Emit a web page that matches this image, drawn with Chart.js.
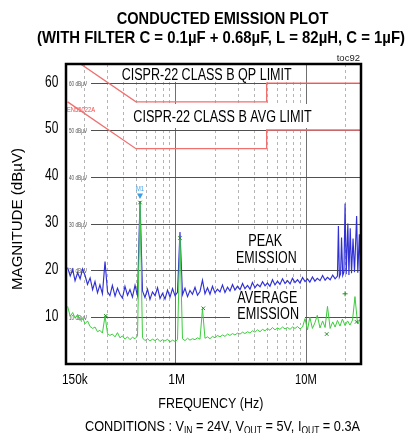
<!DOCTYPE html>
<html>
<head>
<meta charset="utf-8">
<script src="https://cdn.jsdelivr.net/npm/chart.js@4.4.1/dist/chart.umd.min.js"></script>
<style>
  html, body { margin: 0; padding: 0; background: #fff; }
  canvas { display: block; }
</style>
</head>
<body>
<canvas id="emi-chart" width="410" height="433"></canvas>
<script>
// Data (frequency in MHz, level in dBuV)
const gridFreqMHz = [
    0.150, 0.157, 0.164, 0.171, 0.179, 0.187, 0.195, 0.204, 0.213, 0.223,
    0.233, 0.243, 0.254, 0.265, 0.277, 0.290, 0.303, 0.316, 0.330, 0.346,
    0.361, 0.377, 0.394, 0.412, 0.431, 0.450, 0.470, 0.492, 0.514, 0.537,
    0.561, 0.586, 0.613, 0.640, 0.669, 0.700, 0.731, 0.764, 0.798, 0.834,
    0.872, 0.911, 0.952, 0.995, 1.04, 1.086, 1.135, 1.186, 1.24, 1.295,
    1.353, 1.415, 1.478, 1.545, 1.614, 1.687, 1.763, 1.842, 1.925, 2.012,
    2.10, 2.197, 2.296, 2.399, 2.51, 2.62, 2.74, 2.86, 2.99, 3.13,
    3.27, 3.41, 3.57, 3.73, 3.89, 4.07, 4.25, 4.45, 4.65, 4.86,
    5.07, 5.30, 5.54, 5.79, 6.05, 6.32, 6.61, 6.91, 7.22, 7.55,
    7.88, 8.24, 8.61, 9.00, 9.41, 9.83, 10.27, 10.7, 11.2, 11.7,
    12.2, 12.8, 13.4, 14.0, 14.6, 15.3, 16.0, 16.7, 17.4, 18.2,
    19.0, 19.9, 20.8, 21.7, 22.7, 23.7, 24.8, 25.9
];

// peak trace: grid up to 16.7 MHz, then the harmonic cluster near 20 MHz
const peakClusterFreqMHz = [
    17.4, 17.7, 18.0, 18.4, 18.7, 19.1, 19.5, 19.9, 20.3, 20.9,
    21.3, 21.8, 22.3, 22.9, 23.5, 24.4, 24.9, 25.6, 26.0, 26.35
];
const peakDbuV = [
    20.6, 18.8, 20.2, 17.8, 19.5, 18.2, 20.3, 18.9, 17.0, 18.4,
    15.9, 17.6, 15.2, 16.9, 15.0, 21.9, 15.4, 14.6, 16.8, 14.5,
    16.2, 14.9, 14.1, 16.6, 14.7, 15.9, 14.3, 16.8, 14.6, 34.8,
    15.6, 14.2, 16.0, 13.8, 15.4, 14.6, 16.3, 14.0, 15.1, 13.9,
    15.8, 14.3, 16.1, 14.6, 15.3, 28.2, 14.8, 16.2, 14.4, 15.7,
    14.9, 16.4, 14.7, 15.5, 17.9, 15.0, 16.3, 14.9, 16.6, 15.2,
    16.0, 15.4, 16.9, 15.3, 16.4, 15.6, 17.0, 15.8, 16.6, 15.9,
    17.2, 16.1, 16.8, 16.0, 17.4, 16.3, 17.0, 16.5, 17.6, 16.7,
    17.3, 16.6, 18.0, 16.9, 17.7, 17.0, 18.2, 17.2, 17.8, 17.1,
    18.3, 17.4, 18.0, 17.3, 18.5, 17.6, 18.2, 17.5, 18.6, 17.7,
    18.3, 17.8, 18.9, 17.9, 18.5, 18.0, 19.0, 18.2,
    18.8, 29.5, 18.6, 19.3, 27.0, 18.9, 19.6, 34.3, 19.2, 30.0,
    19.0, 29.0, 19.4, 26.8, 19.6, 31.6, 19.5, 27.7, 20.2, 19.8
];
const peakFreqMHz = gridFreqMHz.slice(0, 108).concat(peakClusterFreqMHz);

const avgFreqMHz = gridFreqMHz.concat([26.35]);
const avgDbuV = [
    12.3, 10.2, 11.0, 9.8, 10.6, 9.3, 9.9, 8.6, 9.2, 8.0,
    7.6, 7.9, 6.9, 7.2, 6.6, 10.3, 6.5, 6.1, 6.4, 5.8,
    6.7, 5.6, 6.0, 5.3, 5.8, 5.2, 5.7, 5.4, 6.0, 34.6,
    5.6, 5.0, 5.4, 4.9, 5.3, 5.0, 5.4, 4.8, 5.2, 4.9,
    5.3, 4.7, 5.1, 4.8, 5.2, 26.8, 5.4, 5.0, 5.5, 5.1,
    5.4, 5.2, 5.6, 5.3, 11.8, 5.5, 5.8, 5.4, 5.9, 5.6,
    6.1, 5.8, 6.2, 5.9, 6.4, 6.1, 6.5, 6.2, 6.6, 6.4,
    6.8, 6.5, 6.9, 6.6, 7.1, 6.8, 7.3, 6.9, 7.4, 7.1,
    7.6, 7.2, 7.8, 7.3, 7.7, 7.4, 7.9, 7.5, 7.8, 7.4,
    7.9, 7.6, 8.0, 7.5, 7.9, 9.7, 7.3, 10.0, 7.6, 8.8,
    10.4, 7.7, 9.2, 7.8, 12.3, 7.6, 9.0, 7.9, 9.3, 8.1,
    9.6, 8.2, 9.2, 8.3, 9.4, 14.4, 8.6, 9.5,
    8.7
];

const limitFreqMHz = [0.15, 0.5, 5, 5, 30];
const qpLimitDbuV = [66, 56, 56, 60, 60];
const avgLimitDbuV = [56, 46, 46, 50, 50];

const markerFreqMHz = [0.2935, 0.537, 1.086, 1.637, 14.4, 19.9, 24.4];
const markerDbuV = [10.3, 34.5, 26.9, 11.9, 6.4, 15.0, 9.0];
const m1FreqMHz = 0.537;

const yTicks = [10, 20, 30, 40, 50, 60];
const xTickFreqMHz = [0.15, 1, 10];
const xTickLabels = ['150k', '1M', '10M'];
const majorGridMHz = [1, 10];
const minorGridMHz = [0.2, 0.3, 0.4, 0.5, 0.6, 0.7, 0.8, 0.9, 2, 3, 4, 5, 6, 7, 8, 9, 20];

const NARROW = '"Liberation Sans Narrow", "Liberation Sans", Arial, sans-serif';

function toPoints(xs, ys) {
    return xs.map((x, i) => ({ x: x, y: ys[i] }));
}

// draw text squeezed/stretched to a given width, left edge at x
function fitText(ctx, text, x, y, width, font, color) {
    ctx.save();
    ctx.font = font;
    ctx.fillStyle = color || '#000';
    ctx.textAlign = 'left';
    ctx.textBaseline = 'alphabetic';
    const w = ctx.measureText(text).width;
    ctx.translate(x, y);
    ctx.scale(width / w, 1);
    ctx.fillText(text, 0, 0);
    ctx.restore();
}

function whiteBox(ctx, x1, y1, x2, y2) {
    ctx.fillStyle = '#fff';
    ctx.fillRect(x1, y1, x2 - x1, y2 - y1);
}

const backdrop = {
    id: 'backdrop',
    beforeDraw(chart) {
        const ctx = chart.ctx;
        ctx.save();
        ctx.fillStyle = '#fff';
        ctx.fillRect(0, 0, chart.width, chart.height);
        ctx.restore();
    },
    beforeDatasetsDraw(chart) {
        const ctx = chart.ctx;
        const area = chart.chartArea;
        const xs = chart.scales.x;
        const ys = chart.scales.y;
        ctx.save();

        // minor vertical grid
        ctx.strokeStyle = '#b4b4b4';
        ctx.lineWidth = 1;
        ctx.setLineDash([3, 3]);
        minorGridMHz.forEach(f => {
            const px = Math.round(xs.getPixelForValue(f)) + 0.5;
            ctx.beginPath();
            ctx.moveTo(px, area.top);
            ctx.lineTo(px, area.bottom);
            ctx.stroke();
        });
        ctx.setLineDash([]);

        // major vertical grid
        ctx.strokeStyle = '#707070';
        majorGridMHz.forEach(f => {
            const px = Math.round(xs.getPixelForValue(f)) + 0.5;
            ctx.beginPath();
            ctx.moveTo(px, area.top);
            ctx.lineTo(px, area.bottom);
            ctx.stroke();
        });

        // horizontal grid with small inline labels
        yTicks.forEach(v => {
            const py = Math.round(ys.getPixelForValue(v)) + 0.5;
            ctx.strokeStyle = '#505050';
            ctx.beginPath();
            ctx.moveTo(91, py);
            ctx.lineTo(area.right, py);
            ctx.stroke();
            fitText(ctx, v + ' dBµV', 69, py + 2.5, 18, '7px ' + NARROW, '#555');
        });

        // text boxes hide the grid underneath
        whiteBox(ctx, 115, area.top + 1, 303, 82);
        whiteBox(ctx, 128, 104, 318, 128);
        whiteBox(ctx, 232, 231, 301, 266);
        whiteBox(ctx, 230, 289, 305, 323);

        const f16 = '16px ' + NARROW;
        fitText(ctx, 'CISPR-22 CLASS B QP LIMIT', 121.7, 79.5, 170, f16);
        fitText(ctx, 'CISPR-22 CLASS B AVG LIMIT', 133.3, 121.7, 178.4, f16);
        fitText(ctx, 'PEAK', 248.3, 245.7, 34, f16);
        fitText(ctx, 'EMISSION', 236, 262.7, 60.7, f16);
        fitText(ctx, 'AVERAGE', 237.3, 302.7, 60, f16);
        fitText(ctx, 'EMISSION', 237.3, 319, 61.7, f16);
        fitText(ctx, 'EN55022A', 67, 111.7, 28, '7px ' + NARROW, '#f04848');

        ctx.restore();
    },
    afterDatasetsDraw(chart) {
        const ctx = chart.ctx;
        const area = chart.chartArea;
        const xs = chart.scales.x;
        const ys = chart.scales.y;
        ctx.save();

        // M1 marker
        const mx = xs.getPixelForValue(m1FreqMHz);
        ctx.fillStyle = '#3a9ee6';
        ctx.beginPath();
        ctx.moveTo(mx - 3, 193.5);
        ctx.lineTo(mx + 3, 193.5);
        ctx.lineTo(mx, 199);
        ctx.closePath();
        ctx.fill();
        fitText(ctx, 'M1', mx - 4, 191, 8, '8px ' + NARROW, '#3a9ee6');

        // frame
        ctx.strokeStyle = '#000';
        ctx.lineWidth = 2.5;
        ctx.strokeRect(area.left, area.top, area.right - area.left, area.bottom - area.top);

        // axis tick labels
        const f15 = '15px ' + NARROW;
        yTicks.forEach(v => {
            const py = ys.getPixelForValue(v);
            fitText(ctx, String(v), 45, py + 3.4, 13.3, '16px ' + NARROW);
        });
        const xLabelBox = [[62, 25.7], [168.3, 16.7], [295, 21.7]];
        xTickLabels.forEach((t, i) => {
            fitText(ctx, t, xLabelBox[i][0], 384.3, xLabelBox[i][1], f15);
        });

        // titles
        const bold = 'bold 17px ' + NARROW;
        fitText(ctx, 'CONDUCTED EMISSION PLOT', 116.7, 24, 211.6, bold);
        fitText(ctx, '(WITH FILTER C = 0.1µF + 0.68µF, L = 82µH, C = 1µF)', 37, 42.7, 368, bold);
        fitText(ctx, 'toc92', 336.7, 61.3, 23.3, '9px ' + NARROW, '#222');
        fitText(ctx, 'FREQUENCY (Hz)', 158.3, 407.7, 105, f15);

        // rotated y title
        ctx.save();
        ctx.translate(22, 290);
        ctx.rotate(-Math.PI / 2);
        fitText(ctx, 'MAGNITUDE (dBµV)', 0, 0, 142, '14.5px ' + NARROW);
        ctx.restore();

        // conditions line with subscripts
        const parts = [
            ['CONDITIONS : V', false], ['IN', true], [' = 24V, V', false], ['OUT', true],
            [' = 5V, I', false], ['OUT', true], [' = 0.3A', false]
        ];
        const mainFont = '15px ' + NARROW;
        const subFont = '10px ' + NARROW;
        let total = 0;
        parts.forEach(p => {
            ctx.font = p[1] ? subFont : mainFont;
            total += ctx.measureText(p[0]).width;
        });
        const scale = 275 / total;
        ctx.save();
        ctx.translate(85, 430.7);
        ctx.scale(scale, 1);
        ctx.fillStyle = '#000';
        let cx = 0;
        parts.forEach(p => {
            ctx.font = p[1] ? subFont : mainFont;
            ctx.fillText(p[0], cx, p[1] ? 3 : 0);
            cx += ctx.measureText(p[0]).width;
        });
        ctx.restore();

        ctx.restore();
    }
};

const markerStyles = ['crossRot', 'crossRot', 'crossRot', 'crossRot', 'crossRot', 'cross', 'crossRot'];

new Chart(document.getElementById('emi-chart').getContext('2d'), {
    type: 'line',
    data: {
        datasets: [
            {
                label: 'Markers',
                data: toPoints(markerFreqMHz, markerDbuV),
                showLine: false,
                pointStyle: markerStyles,
                pointRadius: 2.5,
                borderColor: '#2a8a2a',
                borderWidth: 1
            },
            {
                label: 'Average',
                data: toPoints(avgFreqMHz, avgDbuV),
                borderColor: '#3dcc3d',
                borderWidth: 1,
                pointRadius: 0
            },
            {
                label: 'Peak',
                data: toPoints(peakFreqMHz, peakDbuV),
                borderColor: '#3030d4',
                borderWidth: 1.15,
                pointRadius: 0
            },
            {
                label: 'QP limit',
                data: toPoints(limitFreqMHz, qpLimitDbuV),
                borderColor: '#f07070',
                borderWidth: 1.3,
                pointRadius: 0
            },
            {
                label: 'AVG limit',
                data: toPoints(limitFreqMHz, avgLimitDbuV),
                borderColor: '#f07070',
                borderWidth: 1.3,
                pointRadius: 0
            }
        ]
    },
    options: {
        responsive: false,
        devicePixelRatio: 1,
        animation: false,
        layout: { padding: { left: 66, top: 64, right: 49, bottom: 69 } },
        scales: {
            x: { type: 'logarithmic', min: 0.1458, max: 26.35, display: false },
            y: { type: 'linear', min: 0, max: 64.1, display: false }
        },
        elements: { line: { tension: 0 } },
        plugins: { legend: { display: false }, tooltip: { enabled: false } }
    },
    plugins: [backdrop]
});
</script>
</body>
</html>
